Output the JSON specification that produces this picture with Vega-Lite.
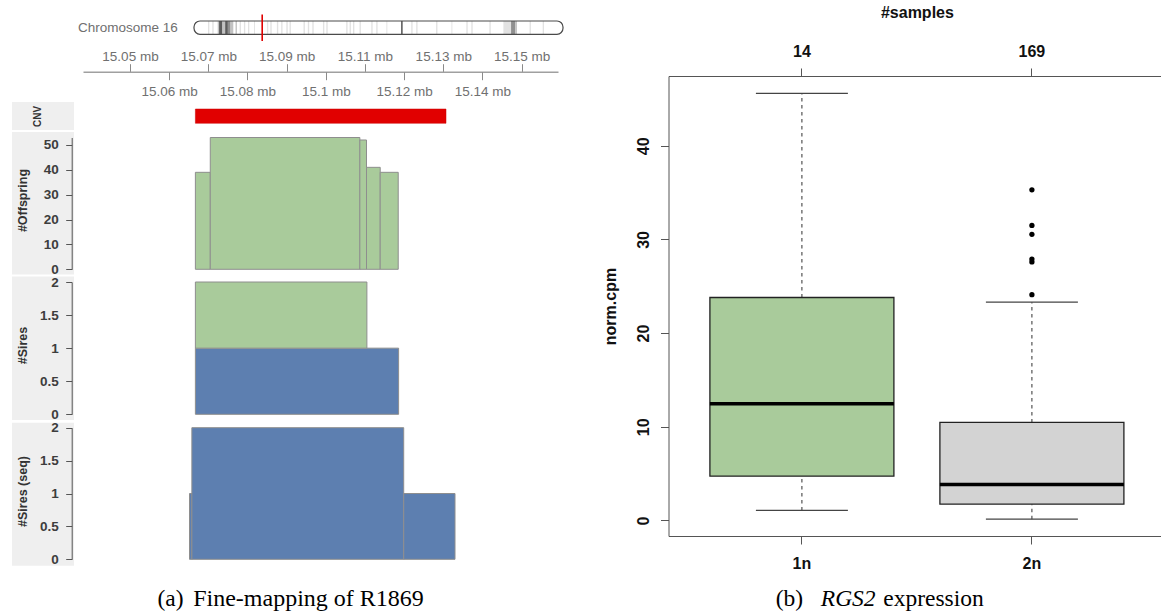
{
  "$schema": "https://vega.github.io/schema/vega-lite/v6.json",
  "width": 1161,
  "height": 613,
  "padding": 0,
  "autosize": {"type": "none"},
  "background": "white",
  "config": {
    "view": {"stroke": null},
    "axis": {"grid": false, "labelFont": "Liberation Sans", "titleFont": "Liberation Sans", "labelFlush": false, "labelOverlap": false}
  },
  "datasets": {
    "bands": [
      {"chrom": "16", "start": 3.1, "end": 3.4, "stain": "gpos25"},
      {"chrom": "16", "start": 4.05, "end": 4.35, "stain": "gpos25"},
      {"chrom": "16", "start": 5.25, "end": 5.55, "stain": "gpos50"},
      {"chrom": "16", "start": 5.55, "end": 6.3, "stain": "gpos100"},
      {"chrom": "16", "start": 6.3, "end": 6.9, "stain": "gpos50"},
      {"chrom": "16", "start": 6.9, "end": 7.5, "stain": "gpos100"},
      {"chrom": "16", "start": 7.5, "end": 8.1, "stain": "gpos75"},
      {"chrom": "16", "start": 8.1, "end": 8.7, "stain": "gpos50"},
      {"chrom": "16", "start": 9.2, "end": 9.5, "stain": "gpos50"},
      {"chrom": "16", "start": 10.1, "end": 10.4, "stain": "gpos25"},
      {"chrom": "16", "start": 11.05, "end": 11.35, "stain": "gpos25"},
      {"chrom": "16", "start": 11.95, "end": 12.25, "stain": "gpos25"},
      {"chrom": "16", "start": 13.3, "end": 13.5, "stain": "gpos25"},
      {"chrom": "16", "start": 16.15, "end": 16.45, "stain": "gpos25"},
      {"chrom": "16", "start": 16.9, "end": 17.2, "stain": "gpos25"},
      {"chrom": "16", "start": 18.35, "end": 18.65, "stain": "gpos25"},
      {"chrom": "16", "start": 19.3, "end": 19.6, "stain": "gpos25"},
      {"chrom": "16", "start": 20.45, "end": 20.75, "stain": "gpos25"},
      {"chrom": "16", "start": 21.15, "end": 21.45, "stain": "gpos25"},
      {"chrom": "16", "start": 24.25, "end": 24.55, "stain": "gpos25"},
      {"chrom": "16", "start": 25.2, "end": 25.5, "stain": "gpos25"},
      {"chrom": "16", "start": 26.2, "end": 26.5, "stain": "gpos25"},
      {"chrom": "16", "start": 28.55, "end": 28.85, "stain": "gpos25"},
      {"chrom": "16", "start": 29.3, "end": 29.6, "stain": "gpos25"},
      {"chrom": "16", "start": 33.7, "end": 34.0, "stain": "gpos25"},
      {"chrom": "16", "start": 34.45, "end": 34.75, "stain": "gpos25"},
      {"chrom": "16", "start": 35.2, "end": 35.5, "stain": "gpos25"},
      {"chrom": "16", "start": 36.65, "end": 36.95, "stain": "gpos25"},
      {"chrom": "16", "start": 39.25, "end": 39.55, "stain": "gpos25"},
      {"chrom": "16", "start": 40.35, "end": 40.65, "stain": "gpos25"},
      {"chrom": "16", "start": 42.6, "end": 42.8, "stain": "gpos25"},
      {"chrom": "16", "start": 45.85, "end": 46.2, "stain": "gpos100"},
      {"chrom": "16", "start": 48.1, "end": 48.4, "stain": "gpos25"},
      {"chrom": "16", "start": 49.2, "end": 49.5, "stain": "gpos25"},
      {"chrom": "16", "start": 53.6, "end": 53.9, "stain": "gpos25"},
      {"chrom": "16", "start": 57.0, "end": 57.2, "stain": "gpos25"},
      {"chrom": "16", "start": 60.3, "end": 60.6, "stain": "gpos25"},
      {"chrom": "16", "start": 61.4, "end": 61.7, "stain": "gpos25"},
      {"chrom": "16", "start": 65.4, "end": 65.7, "stain": "gpos25"},
      {"chrom": "16", "start": 68.5, "end": 70.2, "stain": "gpos25"},
      {"chrom": "16", "start": 70.2, "end": 71.1, "stain": "gpos75"},
      {"chrom": "16", "start": 71.1, "end": 71.5, "stain": "gpos50"},
      {"chrom": "16", "start": 74.3, "end": 74.6, "stain": "gpos25"},
      {"chrom": "16", "start": 77.2, "end": 77.5, "stain": "gpos25"}
    ],
    "chromosome": [{"chrom": "16", "start": 0, "end": 81.7, "view_mid": 15.1}],
    "cnv": [{"track": "CNV", "start": 15.0667, "end": 15.1307}],
    "offspring": [
      {"start": 15.0667, "end": 15.0705, "n": 39},
      {"start": 15.0705, "end": 15.1087, "n": 53},
      {"start": 15.1087, "end": 15.1104, "n": 52},
      {"start": 15.1104, "end": 15.1139, "n": 41},
      {"start": 15.1139, "end": 15.1185, "n": 39}
    ],
    "sires": [
      {"start": 15.0667, "end": 15.1186, "sire_class": "I", "count": 1},
      {"start": 15.0667, "end": 15.1105, "sire_class": "II", "count": 1}
    ],
    "sires_seq": [
      {"start": 15.0652, "end": 15.0658, "count": 1},
      {"start": 15.0658, "end": 15.1199, "count": 2},
      {"start": 15.1199, "end": 15.133, "count": 1}
    ],
    "box": [
      {"group": "1n", "n": 14, "lo": 1.07, "q1": 4.73, "median": 12.46, "q3": 23.8, "hi": 45.6},
      {"group": "2n", "n": 169, "lo": 0.14, "q1": 1.74, "median": 3.85, "q3": 10.47, "hi": 23.3}
    ],
    "outliers": [
      {"group": "2n", "value": 35.3},
      {"group": "2n", "value": 31.5},
      {"group": "2n", "value": 30.55},
      {"group": "2n", "value": 27.9},
      {"group": "2n", "value": 27.6},
      {"group": "2n", "value": 24.1}
    ]
  },
  "layer": [
    {
      "data": {"values": [{"track": "CNV"}]},
      "mark": {"type": "rect", "fill": "#efefef"},
      "encoding": {
        "x": {"datum": 0, "type": "quantitative", "scale": {"domain": [0, 1], "range": [12, 74]},
          "axis": {"orient": "bottom", "domain": false, "ticks": false, "labels": false, "title": "(a)", "titleX": 170, "titleY": -7.3, "titleAlign": "center", "titleBaseline": "alphabetic", "titleFont": "Liberation Serif", "titleFontSize": 23.5, "titleFontWeight": "normal", "titleColor": "#000"}},
        "x2": {"datum": 1},
        "y": {"datum": 0, "type": "quantitative", "scale": {"domain": [0, 1], "range": [130, 102]},
          "axis": {"orient": "left", "zindex": 1, "domain": false, "ticks": false, "labels": false, "title": "CNV", "titleX": 37.7, "titleY": 116, "titleAngle": 270, "titleAlign": "center", "titleBaseline": "middle", "titleFontSize": 10, "titleFontWeight": "bold", "titleColor": "#333"}},
        "y2": {"datum": 1}
      }
    },
    {
      "data": {"values": [{"track": "#Offspring"}]},
      "mark": {"type": "rect", "fill": "#efefef"},
      "encoding": {
        "x": {"datum": 0, "type": "quantitative", "scale": {"domain": [0, 1], "range": [12, 74]},
          "axis": {"orient": "bottom", "domain": false, "ticks": false, "labels": false, "title": "Fine-mapping of R1869", "titleX": 308, "titleY": -7.3, "titleAlign": "center", "titleBaseline": "alphabetic", "titleFont": "Liberation Serif", "titleFontSize": 24, "titleFontWeight": "normal", "titleColor": "#000"}},
        "x2": {"datum": 1},
        "y": {"datum": 0, "type": "quantitative", "scale": {"domain": [0, 1], "range": [274.5, 132]}, "axis": null},
        "y2": {"datum": 1}
      }
    },
    {
      "data": {"values": [{"track": "#Sires"}]},
      "mark": {"type": "rect", "fill": "#efefef"},
      "encoding": {
        "x": {"datum": 0, "type": "quantitative", "scale": {"domain": [0, 1], "range": [12, 74]},
          "axis": {"orient": "bottom", "domain": false, "ticks": false, "labels": false, "title": "(b)", "titleX": 789, "titleY": -7.3, "titleAlign": "center", "titleBaseline": "alphabetic", "titleFont": "Liberation Serif", "titleFontSize": 23.5, "titleFontWeight": "normal", "titleColor": "#000"}},
        "x2": {"datum": 1},
        "y": {"datum": 0, "type": "quantitative", "scale": {"domain": [0, 1], "range": [420, 276.5]}, "axis": null},
        "y2": {"datum": 1}
      }
    },
    {
      "data": {"values": [{"track": "#Sires (seq)"}]},
      "mark": {"type": "rect", "fill": "#efefef"},
      "encoding": {
        "x": {"datum": 0, "type": "quantitative", "scale": {"domain": [0, 1], "range": [12, 74]},
          "axis": {"orient": "bottom", "domain": false, "ticks": false, "labels": false, "title": "RGS2", "titleX": 847.7, "titleY": -7.3, "titleAlign": "center", "titleBaseline": "alphabetic", "titleFont": "Liberation Serif", "titleFontSize": 23.5, "titleFontWeight": "normal", "titleFontStyle": "italic", "titleColor": "#000"}},
        "x2": {"datum": 1},
        "y": {"datum": 0, "type": "quantitative", "scale": {"domain": [0, 1], "range": [565.7, 422.7]}, "axis": null},
        "y2": {"datum": 1}
      }
    },
    {
      "data": {"name": "bands"},
      "mark": {"type": "rect"},
      "encoding": {
        "x": {"field": "start", "type": "quantitative", "scale": {"domain": [0, 81.7], "range": [194, 563], "nice": false, "zero": false}, "axis": null},
        "x2": {"field": "end"},
        "y": {"field": "chrom", "type": "nominal", "scale": {"type": "band", "range": [21, 34.3], "paddingInner": 0, "paddingOuter": 0},
          "axis": {"orient": "left", "offset": -177.3, "domain": false, "ticks": false, "labelPadding": 0, "labelExpr": "'Chromosome ' + datum.label", "labelFontSize": 13.5, "labelColor": "#707070", "title": null}},
        "color": {"field": "stain", "type": "nominal", "scale": {"domain": ["gpos25", "gpos50", "gpos75", "gpos100"], "range": ["#e2e2e2", "#c2c2c2", "#909090", "#5c5c5c"]}, "legend": null}
      }
    },
    {
      "data": {"name": "chromosome"},
      "mark": {"type": "rect", "fillOpacity": 0, "stroke": "#4a4a4a", "strokeWidth": 1.2, "cornerRadius": 6},
      "encoding": {
        "x": {"field": "start", "type": "quantitative", "scale": {"domain": [0, 81.7], "range": [194, 563], "nice": false, "zero": false},
          "axis": {"orient": "bottom", "domain": false, "ticks": false, "labels": false, "title": "expression", "titleX": 933, "titleY": -7.3, "titleAlign": "center", "titleBaseline": "alphabetic", "titleFont": "Liberation Serif", "titleFontSize": 23.5, "titleFontWeight": "normal", "titleColor": "#000"}},
        "x2": {"field": "end"},
        "y": {"field": "chrom", "type": "nominal", "scale": {"type": "band", "range": [21, 34.3], "paddingInner": 0, "paddingOuter": 0}, "axis": null}
      }
    },
    {
      "data": {"name": "chromosome"},
      "mark": {"type": "tick", "color": "#e00000", "thickness": 1.6, "size": 26.5, "opacity": 1},
      "encoding": {
        "x": {"field": "view_mid", "type": "quantitative", "scale": {"domain": [0, 81.7], "range": [194, 563], "nice": false, "zero": false}, "axis": null},
        "y": {"field": "chrom", "type": "nominal", "scale": {"type": "band", "range": [21, 34.3], "paddingInner": 0, "paddingOuter": 0}, "axis": null}
      }
    },
    {
      "data": {"name": "cnv"},
      "mark": {"type": "rect", "fill": "#e10000", "stroke": "#c80000", "strokeWidth": 0.5},
      "encoding": {
        "x": {"field": "start", "type": "quantitative", "scale": {"domain": [15.038, 15.1593], "range": [83, 558], "nice": false, "zero": false},
          "axis": {"orient": "top", "offset": -71.7, "values": [15.05, 15.07, 15.09, 15.11, 15.13, 15.15], "labelExpr": "format(datum.value, '.2~f') + ' mb'", "tickSize": 8, "tickColor": "#8a8a8a", "domainColor": "#a0a0a0", "domainWidth": 1.5, "labelColor": "#707070", "labelFontSize": 13.5, "labelBaseline": "alphabetic", "labelPadding": 3, "title": null}},
        "x2": {"field": "end"},
        "y": {"field": "track", "type": "nominal", "scale": {"type": "band", "range": [109, 123.3], "paddingInner": 0, "paddingOuter": 0}, "axis": null}
      }
    },
    {
      "data": {"name": "offspring"},
      "mark": {"type": "rect", "fill": "#a9cb9b", "stroke": "#8e8e8e", "strokeWidth": 1},
      "encoding": {
        "x": {"field": "start", "type": "quantitative", "scale": {"domain": [15.038, 15.1593], "range": [83, 558], "nice": false, "zero": false},
          "axis": {"orient": "bottom", "offset": -541.3, "values": [15.06, 15.08, 15.1, 15.12, 15.14], "labelExpr": "format(datum.value, '.2~f') + ' mb'", "domain": false, "tickSize": 8, "tickColor": "#8a8a8a", "labelColor": "#707070", "labelFontSize": 13.5, "labelBaseline": "alphabetic", "labelPadding": 15.3, "title": null}},
        "x2": {"field": "end"},
        "y": {"field": "n", "type": "quantitative", "scale": {"domain": [0, 53], "range": [269.3, 137.5], "nice": false, "zero": false},
          "axis": {"orient": "left", "zindex": 1, "offset": -71.7, "values": [0, 10, 20, 30, 40, 50], "tickSize": 6, "labelPadding": 7.4, "labelFontSize": 13.5, "labelFontWeight": "bold", "labelColor": "#3d3d3d", "tickColor": "#555", "domainColor": "#555", "title": "#Offspring", "titleX": -49, "titleY": 200, "titleAngle": 270, "titleAlign": "center", "titleBaseline": "middle", "titleFontSize": 12.5, "titleFontWeight": "bold", "titleColor": "#333"}},
        "y2": {"datum": 0}
      }
    },
    {
      "data": {"name": "sires"},
      "transform": [
        {"stack": "count", "groupby": ["start"], "sort": [{"field": "sire_class", "order": "ascending"}], "as": ["c0", "c1"]}
      ],
      "mark": {"type": "rect", "stroke": "#8e8e8e", "strokeWidth": 1},
      "encoding": {
        "x": {"field": "start", "type": "quantitative", "scale": {"domain": [15.038, 15.1593], "range": [83, 558], "nice": false, "zero": false}, "axis": null},
        "x2": {"field": "end"},
        "y": {"field": "c0", "type": "quantitative", "scale": {"domain": [0, 2], "range": [414.3, 282], "nice": false, "zero": false},
          "axis": {"orient": "left", "zindex": 1, "offset": -71.7, "values": [0, 0.5, 1, 1.5, 2], "format": "~g", "tickSize": 6, "labelPadding": 7.4, "labelFontSize": 13.5, "labelFontWeight": "bold", "labelColor": "#3d3d3d", "tickColor": "#555", "domainColor": "#555", "title": "#Sires", "titleX": -49, "titleY": 345, "titleAngle": 270, "titleAlign": "center", "titleBaseline": "middle", "titleFontSize": 12.5, "titleFontWeight": "bold", "titleColor": "#333"}},
        "y2": {"field": "c1"},
        "color": {"field": "sire_class", "type": "nominal", "scale": {"domain": ["I", "II"], "range": ["#5d7fb0", "#a9cb9b"]}, "legend": null}
      }
    },
    {
      "data": {"name": "sires_seq"},
      "mark": {"type": "rect", "fill": "#5d7fb0", "stroke": "#8e8e8e", "strokeWidth": 1},
      "encoding": {
        "x": {"field": "start", "type": "quantitative", "scale": {"domain": [15.038, 15.1593], "range": [83, 558], "nice": false, "zero": false}, "axis": null},
        "x2": {"field": "end"},
        "y": {"field": "count", "type": "quantitative", "scale": {"domain": [0, 2], "range": [559.3, 427.7], "nice": false, "zero": false},
          "axis": {"orient": "left", "zindex": 1, "offset": -71.7, "values": [0, 0.5, 1, 1.5, 2], "format": "~g", "tickSize": 6, "labelPadding": 7.4, "labelFontSize": 13.5, "labelFontWeight": "bold", "labelColor": "#3d3d3d", "tickColor": "#555", "domainColor": "#555", "title": "#Sires (seq)", "titleX": -49, "titleY": 491, "titleAngle": 270, "titleAlign": "center", "titleBaseline": "middle", "titleFontSize": 12.5, "titleFontWeight": "bold", "titleColor": "#333"}},
        "y2": {"datum": 0}
      }
    },
    {
      "data": {"name": "box"},
      "mark": {"type": "rule", "strokeDash": [3.5, 3.5], "color": "#444", "strokeWidth": 1.1},
      "encoding": {
        "x": {"field": "group", "type": "nominal", "scale": {"type": "band", "domain": ["1n", "2n"], "range": [668.5, 1165.3], "paddingInner": 0.2, "paddingOuter": 0.18}, "axis": null},
        "y": {"field": "q3", "type": "quantitative", "scale": {"domain": [-1.66, 47.45], "range": [536, 76], "nice": false, "zero": false}, "axis": null},
        "y2": {"field": "hi"}
      }
    },
    {
      "data": {"name": "box"},
      "mark": {"type": "rule", "strokeDash": [3.5, 3.5], "color": "#444", "strokeWidth": 1.1},
      "encoding": {
        "x": {"field": "group", "type": "nominal", "scale": {"type": "band", "domain": ["1n", "2n"], "range": [668.5, 1165.3], "paddingInner": 0.2, "paddingOuter": 0.18}, "axis": null},
        "y": {"field": "lo", "type": "quantitative", "scale": {"domain": [-1.66, 47.45], "range": [536, 76], "nice": false, "zero": false}, "axis": null},
        "y2": {"field": "q1"}
      }
    },
    {
      "data": {"name": "box"},
      "mark": {"type": "tick", "orient": "horizontal", "color": "#444", "thickness": 1.2, "size": 92, "opacity": 1},
      "encoding": {
        "x": {"field": "n", "type": "ordinal", "scale": {"type": "band", "domain": [14, 169], "range": [668.5, 1165.3], "paddingInner": 0.2, "paddingOuter": 0.18},
          "axis": {"orient": "top", "offset": -76, "tickSize": 8, "labelAngle": 0, "labelPadding": 11.3, "labelBaseline": "alphabetic", "labelFontSize": 16, "labelFontWeight": "bold", "labelColor": "#111", "domainColor": "#555", "tickColor": "#555", "title": "#samples", "titleY": -58.3, "titleBaseline": "alphabetic", "titleFontSize": 16, "titleFontWeight": "bold", "titleColor": "#111"}},
        "y": {"field": "hi", "type": "quantitative", "scale": {"domain": [-1.66, 47.45], "range": [536, 76], "nice": false, "zero": false}, "axis": null}
      }
    },
    {
      "data": {"name": "box"},
      "mark": {"type": "tick", "orient": "horizontal", "color": "#444", "thickness": 1.2, "size": 92, "opacity": 1},
      "encoding": {
        "x": {"field": "group", "type": "nominal", "scale": {"type": "band", "domain": ["1n", "2n"], "range": [668.5, 1165.3], "paddingInner": 0.2, "paddingOuter": 0.18}, "axis": null},
        "y": {"field": "lo", "type": "quantitative", "scale": {"domain": [-1.66, 47.45], "range": [536, 76], "nice": false, "zero": false}, "axis": null}
      }
    },
    {
      "data": {"name": "box"},
      "mark": {"type": "bar", "stroke": "#222", "strokeWidth": 1.3},
      "encoding": {
        "x": {"field": "group", "type": "nominal", "scale": {"type": "band", "domain": ["1n", "2n"], "range": [668.5, 1165.3], "paddingInner": 0.2, "paddingOuter": 0.18},
          "axis": {"orient": "bottom", "offset": -77, "tickSize": 8, "labelAngle": 0, "labelPadding": 24.3, "labelBaseline": "alphabetic", "labelFontSize": 16, "labelFontWeight": "bold", "labelColor": "#111", "domainColor": "#555", "tickColor": "#555", "title": null}},
        "y": {"field": "q1", "type": "quantitative", "scale": {"domain": [-1.66, 47.45], "range": [536, 76], "nice": false, "zero": false},
          "axis": {"orient": "left", "offset": -668.5, "values": [0, 10, 20, 30, 40], "tickSize": 8, "labelAngle": 270, "labelAlign": "center", "labelBaseline": "middle", "labelPadding": 17, "labelFontSize": 16, "labelFontWeight": "bold", "labelColor": "#111", "domainColor": "#555", "tickColor": "#555", "title": "norm.cpm", "titleX": -58.5, "titleY": 306, "titleAngle": 270, "titleAlign": "center", "titleBaseline": "middle", "titleFontSize": 16, "titleFontWeight": "bold", "titleColor": "#111"}},
        "y2": {"field": "q3"},
        "color": {"field": "group", "type": "nominal", "scale": {"domain": ["1n", "2n"], "range": ["#a9cb9b", "#d3d3d3"]}, "legend": null}
      }
    },
    {
      "data": {"name": "box"},
      "mark": {"type": "tick", "orient": "horizontal", "color": "#000", "thickness": 3.5, "size": 184, "opacity": 1},
      "encoding": {
        "x": {"field": "group", "type": "nominal", "scale": {"type": "band", "domain": ["1n", "2n"], "range": [668.5, 1165.3], "paddingInner": 0.2, "paddingOuter": 0.18}, "axis": null},
        "y": {"field": "median", "type": "quantitative", "scale": {"domain": [-1.66, 47.45], "range": [536, 76], "nice": false, "zero": false}, "axis": null}
      }
    },
    {
      "data": {"name": "outliers"},
      "mark": {"type": "point", "filled": true, "color": "#000", "size": 28, "opacity": 1},
      "encoding": {
        "x": {"field": "group", "type": "nominal", "scale": {"type": "band", "domain": ["1n", "2n"], "range": [668.5, 1165.3], "paddingInner": 0.2, "paddingOuter": 0.18}, "axis": null},
        "y": {"field": "value", "type": "quantitative", "scale": {"domain": [-1.66, 47.45], "range": [536, 76], "nice": false, "zero": false}, "axis": null}
      }
    }
  ],
  "resolve": {
    "scale": {"x": "independent", "y": "independent", "color": "independent"},
    "axis": {"x": "independent", "y": "independent"}
  }
}
